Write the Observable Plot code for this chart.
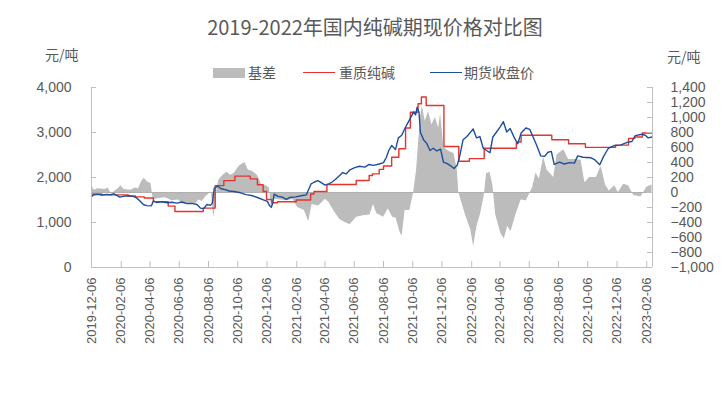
<!DOCTYPE html>
<html><head><meta charset="utf-8">
<script src="https://cdn.jsdelivr.net/npm/d3@7"></script>
<script src="https://cdn.jsdelivr.net/npm/@observablehq/plot@0.6"></script>
<style>
body{margin:0;background:#fff;}
#wrap{position:relative;width:723px;height:398px;font-family:"Liberation Sans","Noto Sans CJK SC",sans-serif;color:#595959;overflow:hidden;}
.abs{position:absolute;white-space:nowrap;line-height:1;}
.cjk{font-family:"Noto Sans CJK SC","Liberation Sans",sans-serif;}
</style></head><body><div id="wrap">
<div class="abs cjk" style="left:375px;top:17px;transform:translateX(-50%);font-size:20px;">2019-2022年国内纯碱期现价格对比图</div>
<div class="abs cjk" style="left:45px;top:47px;font-size:14px;">元/吨</div>
<div class="abs cjk" style="left:667px;top:49px;font-size:14px;">元/吨</div>
<div class="abs" style="left:213px;top:68px;width:32px;height:10px;background:#bcbcbc;"></div>
<div class="abs cjk" style="left:248px;top:65px;font-size:14px;">基差</div>
<div class="abs" style="left:303px;top:72px;width:32px;height:0;border-top:1.5px solid #e3342f;"></div>
<div class="abs cjk" style="left:339px;top:65px;font-size:14px;">重质纯碱</div>
<div class="abs" style="left:430px;top:72px;width:32px;height:0;border-top:1.5px solid #1d4f9c;"></div>
<div class="abs cjk" style="left:464px;top:65px;font-size:14px;">期货收盘价</div>
</div>
<script>
// x-axis range and tick labels
const xStart = "2019-12-06";
const xEnd = "2023-02-18";
const xTickLabels = ["2019-12-06","2020-02-06","2020-04-06","2020-06-06","2020-08-06","2020-10-06","2020-12-06","2021-02-06","2021-04-06","2021-06-06","2021-08-06","2021-10-06","2021-12-06","2022-02-06","2022-04-06","2022-06-06","2022-08-06","2022-10-06","2022-12-06","2023-02-06"];
const leftTicks = [0, 1000, 2000, 3000, 4000];
const rightTicks = [-1000,-800,-600,-400,-200,0,200,400,600,800,1000,1200,1400];

// 期货收盘价 (left axis)
const futuresDates = ["2019-12-06","2019-12-10","2019-12-18","2019-12-27","2020-01-08","2020-01-16","2020-01-21","2020-02-03","2020-02-10","2020-02-20","2020-03-02","2020-03-09","2020-03-16","2020-03-23","2020-03-30","2020-04-09","2020-04-13","2020-04-20","2020-04-30","2020-05-12","2020-05-22","2020-06-01","2020-06-12","2020-06-22","2020-07-02","2020-07-13","2020-07-20","2020-07-27","2020-08-03","2020-08-10","2020-08-14","2020-08-18","2020-08-25","2020-09-01","2020-09-10","2020-09-18","2020-09-28","2020-10-12","2020-10-23","2020-11-04","2020-11-16","2020-11-27","2020-12-07","2020-12-11","2020-12-15","2020-12-18","2020-12-21","2020-12-29","2021-01-08","2021-01-15","2021-01-22","2021-02-04","2021-02-18","2021-02-26","2021-03-04","2021-03-08","2021-03-15","2021-03-22","2021-03-30","2021-04-06","2021-04-14","2021-04-21","2021-04-28","2021-05-07","2021-05-13","2021-05-20","2021-05-28","2021-06-07","2021-06-17","2021-06-28","2021-07-07","2021-07-16","2021-07-28","2021-08-06","2021-08-12","2021-08-17","2021-08-23","2021-08-31","2021-09-06","2021-09-13","2021-09-20","2021-09-28","2021-10-08","2021-10-12","2021-10-15","2021-10-19","2021-10-22","2021-10-29","2021-11-04","2021-11-11","2021-11-18","2021-11-25","2021-12-03","2021-12-09","2021-12-17","2021-12-24","2021-12-31","2022-01-07","2022-01-12","2022-01-19","2022-01-27","2022-02-09","2022-02-16","2022-02-23","2022-03-02","2022-03-09","2022-03-16","2022-03-22","2022-03-29","2022-04-06","2022-04-13","2022-04-20","2022-04-27","2022-05-06","2022-05-13","2022-05-20","2022-05-30","2022-06-07","2022-06-14","2022-06-22","2022-06-30","2022-07-08","2022-07-15","2022-07-22","2022-07-28","2022-08-08","2022-08-18","2022-08-29","2022-09-08","2022-09-15","2022-09-26","2022-10-12","2022-10-21","2022-10-31","2022-11-08","2022-11-18","2022-11-30","2022-12-13","2022-12-27","2023-01-06","2023-01-13","2023-01-27","2023-02-03","2023-02-09","2023-02-17"];
const futuresValues = [1570,1610,1625,1610,1625,1615,1640,1565,1580,1595,1580,1545,1480,1400,1375,1370,1480,1445,1460,1440,1450,1430,1455,1420,1425,1400,1320,1310,1400,1380,1430,1760,1810,1750,1730,1700,1690,1660,1620,1600,1555,1510,1470,1380,1340,1430,1630,1580,1560,1515,1555,1570,1600,1615,1760,1860,1900,1930,1880,1830,1860,1900,1960,2050,2110,2080,2170,2220,2250,2230,2290,2270,2300,2330,2450,2600,2710,2620,2880,2940,3100,3260,3460,3390,3560,3450,3000,2830,2760,2600,2650,2590,2630,2340,2310,2260,2200,2280,2480,2840,2910,3080,2880,2910,2650,2600,2550,2900,3000,3120,3240,3010,3090,2880,2750,2990,3100,3070,2900,2700,2480,2470,2560,2580,2290,2340,2300,2330,2320,2480,2450,2440,2390,2285,2470,2650,2710,2720,2780,2800,2930,2960,2940,2880,2900];

// 重质纯碱 (left axis, step changes)
const spotDates = ["2019-12-06","2019-12-27","2020-02-21","2020-03-07","2020-03-25","2020-04-13","2020-05-14","2020-05-28","2020-07-26","2020-08-20","2020-09-07","2020-09-30","2020-11-01","2020-11-16","2020-11-28","2020-12-05","2020-12-16","2020-12-28","2021-02-05","2021-03-07","2021-03-14","2021-04-10","2021-06-10","2021-07-07","2021-07-14","2021-07-28","2021-08-06","2021-08-23","2021-09-07","2021-09-21","2021-10-01","2021-10-17","2021-10-24","2021-11-03","2021-12-10","2022-01-10","2022-02-01","2022-03-04","2022-05-10","2022-05-20","2022-07-23","2022-08-27","2022-10-01","2022-12-03","2022-12-30","2023-01-12","2023-01-28","2023-02-18"];
const spotValues = [1635,1615,1590,1570,1545,1465,1365,1245,1320,1820,1930,2030,1970,1840,1690,1510,1440,1460,1500,1635,1690,1845,1935,2045,2080,2180,2255,2450,2640,3100,3450,3640,3790,3600,2690,2360,2420,2650,2790,2940,2840,2750,2670,2720,2870,2900,2990,2990];

// 基差 (right axis)
const basisDates = ["2019-12-06","2019-12-12","2019-12-20","2020-01-03","2020-01-10","2020-01-17","2020-01-24","2020-01-31","2020-02-05","2020-02-12","2020-02-26","2020-03-06","2020-03-13","2020-03-20","2020-03-25","2020-04-01","2020-04-08","2020-04-13","2020-04-24","2020-05-08","2020-05-22","2020-06-05","2020-06-12","2020-06-26","2020-07-10","2020-07-17","2020-07-24","2020-07-31","2020-08-07","2020-08-12","2020-08-17","2020-08-20","2020-08-24","2020-08-28","2020-09-07","2020-09-14","2020-09-21","2020-09-28","2020-10-09","2020-10-21","2020-10-28","2020-11-06","2020-11-16","2020-11-25","2020-12-04","2020-12-11","2020-12-16","2020-12-21","2021-01-04","2021-01-18","2021-01-29","2021-02-08","2021-02-22","2021-03-03","2021-03-10","2021-03-24","2021-04-07","2021-04-14","2021-04-26","2021-05-07","2021-05-18","2021-05-28","2021-06-11","2021-06-25","2021-07-09","2021-07-16","2021-07-23","2021-08-06","2021-08-16","2021-08-25","2021-09-01","2021-09-10","2021-09-14","2021-09-20","2021-09-30","2021-10-08","2021-10-14","2021-10-22","2021-10-26","2021-11-01","2021-11-08","2021-11-15","2021-11-22","2021-11-29","2021-12-03","2021-12-10","2021-12-20","2021-12-31","2022-01-07","2022-01-10","2022-01-17","2022-01-24","2022-02-04","2022-02-10","2022-02-17","2022-02-24","2022-03-04","2022-03-09","2022-03-16","2022-03-22","2022-03-28","2022-04-08","2022-04-15","2022-04-22","2022-04-29","2022-05-09","2022-05-20","2022-05-31","2022-06-08","2022-06-13","2022-06-20","2022-06-27","2022-07-06","2022-07-13","2022-07-27","2022-08-03","2022-08-17","2022-08-27","2022-09-10","2022-09-22","2022-09-30","2022-10-10","2022-10-24","2022-11-03","2022-11-12","2022-11-20","2022-12-01","2022-12-09","2022-12-20","2022-12-30","2023-01-10","2023-01-25","2023-02-06","2023-02-17"];
const basisValues = [90,30,50,40,60,-30,20,50,90,40,30,60,50,150,190,140,120,-100,-80,-70,-110,-100,-150,-160,-150,-100,-120,-60,-20,10,-340,-200,60,170,240,270,230,250,350,400,300,280,230,100,90,60,-230,-90,-100,-110,-90,-200,-240,-390,-160,-180,-90,-130,-260,-360,-400,-430,-330,-310,-300,-160,-280,-330,-220,-330,-340,-540,-580,-240,-240,0,300,1000,1150,950,1080,900,1000,860,1050,600,550,520,300,0,-150,-300,-500,-720,-450,-300,-50,250,270,100,-300,-550,-620,-450,-520,-300,-100,-110,0,60,260,180,470,300,200,500,570,440,440,430,130,200,200,350,100,20,90,0,110,90,-40,-60,70,100];

const parse = d3.utcParse("%Y-%m-%d");
const toLeft = b => (b + 1000) * 5 / 3;   // right-axis value -> left-axis coordinate
const fromLeft = v => Math.round(v * 3 / 5 - 1000);
const fut = futuresDates.map((d, i) => ({date: parse(d), v: futuresValues[i]}));
const spot = spotDates.map((d, i) => ({date: parse(d), v: spotValues[i]}));
const basis = basisDates.map((d, i) => ({date: parse(d), v: toLeft(basisValues[i])}));
const xTicks = xTickLabels.map(parse);
const base = toLeft(0);
const axisColor = "#bfbfbf";
const plotW = 723 - 91 - 71, plotH = 398 - 87 - 131;

const chart = Plot.plot({
  width: 723, height: 398,
  marginLeft: 91, marginRight: 71, marginTop: 87, marginBottom: 131,
  x: {type: "utc", domain: [parse(xStart), parse(xEnd)]},
  y: {domain: [0, 4000]},
  style: {fontFamily: "'Liberation Sans','Noto Sans CJK SC',sans-serif", fontSize: "14px", color: "#595959", background: "transparent"},
  marks: [
    Plot.areaY(basis, {x: "date", y1: () => base, y2: "v", fill: "#bcbcbc"}),
    Plot.ruleY([base], {stroke: "#b0b0b0", strokeWidth: 1}),
    Plot.line(spot, {x: "date", y: "v", stroke: "#e3342f", strokeWidth: 1.4, curve: "step-after"}),
    Plot.line(fut, {x: "date", y: "v", stroke: "#1d4f9c", strokeWidth: 1.4}),
    Plot.ruleX([parse(xStart)], {stroke: axisColor}),
    Plot.ruleX([parse(xEnd)], {stroke: axisColor}),
    Plot.ruleY([0], {stroke: axisColor}),
    Plot.tickY(leftTicks.filter(t => t > 0), {y: d => d, stroke: axisColor, insetRight: plotW - 5}),
    Plot.tickY(rightTicks.map(toLeft), {y: d => d, stroke: axisColor, insetLeft: plotW - 5}),
    Plot.tickX(xTicks, {x: d => d, stroke: axisColor, insetTop: plotH - 6}),
    Plot.axisY(leftTicks, {anchor: "left", tickSize: 0, tickPadding: 20, tickFormat: d3.format(","), label: null, fontSize: 14}),
    Plot.axisY(rightTicks.map(toLeft), {anchor: "right", tickSize: 0, tickPadding: 18, tickFormat: v => d3.format(",")(fromLeft(v)), label: null, fontSize: 14}),
    Plot.axisX(xTicks, {anchor: "bottom", tickSize: 0, tickPadding: 10, tickRotate: -90, tickFormat: d3.utcFormat("%Y-%m-%d"), label: null, fontSize: 13})
  ]
});
chart.style.position = "absolute";
chart.style.left = "0px";
chart.style.top = "0px";
document.getElementById("wrap").appendChild(chart);
</script>
</body></html>
